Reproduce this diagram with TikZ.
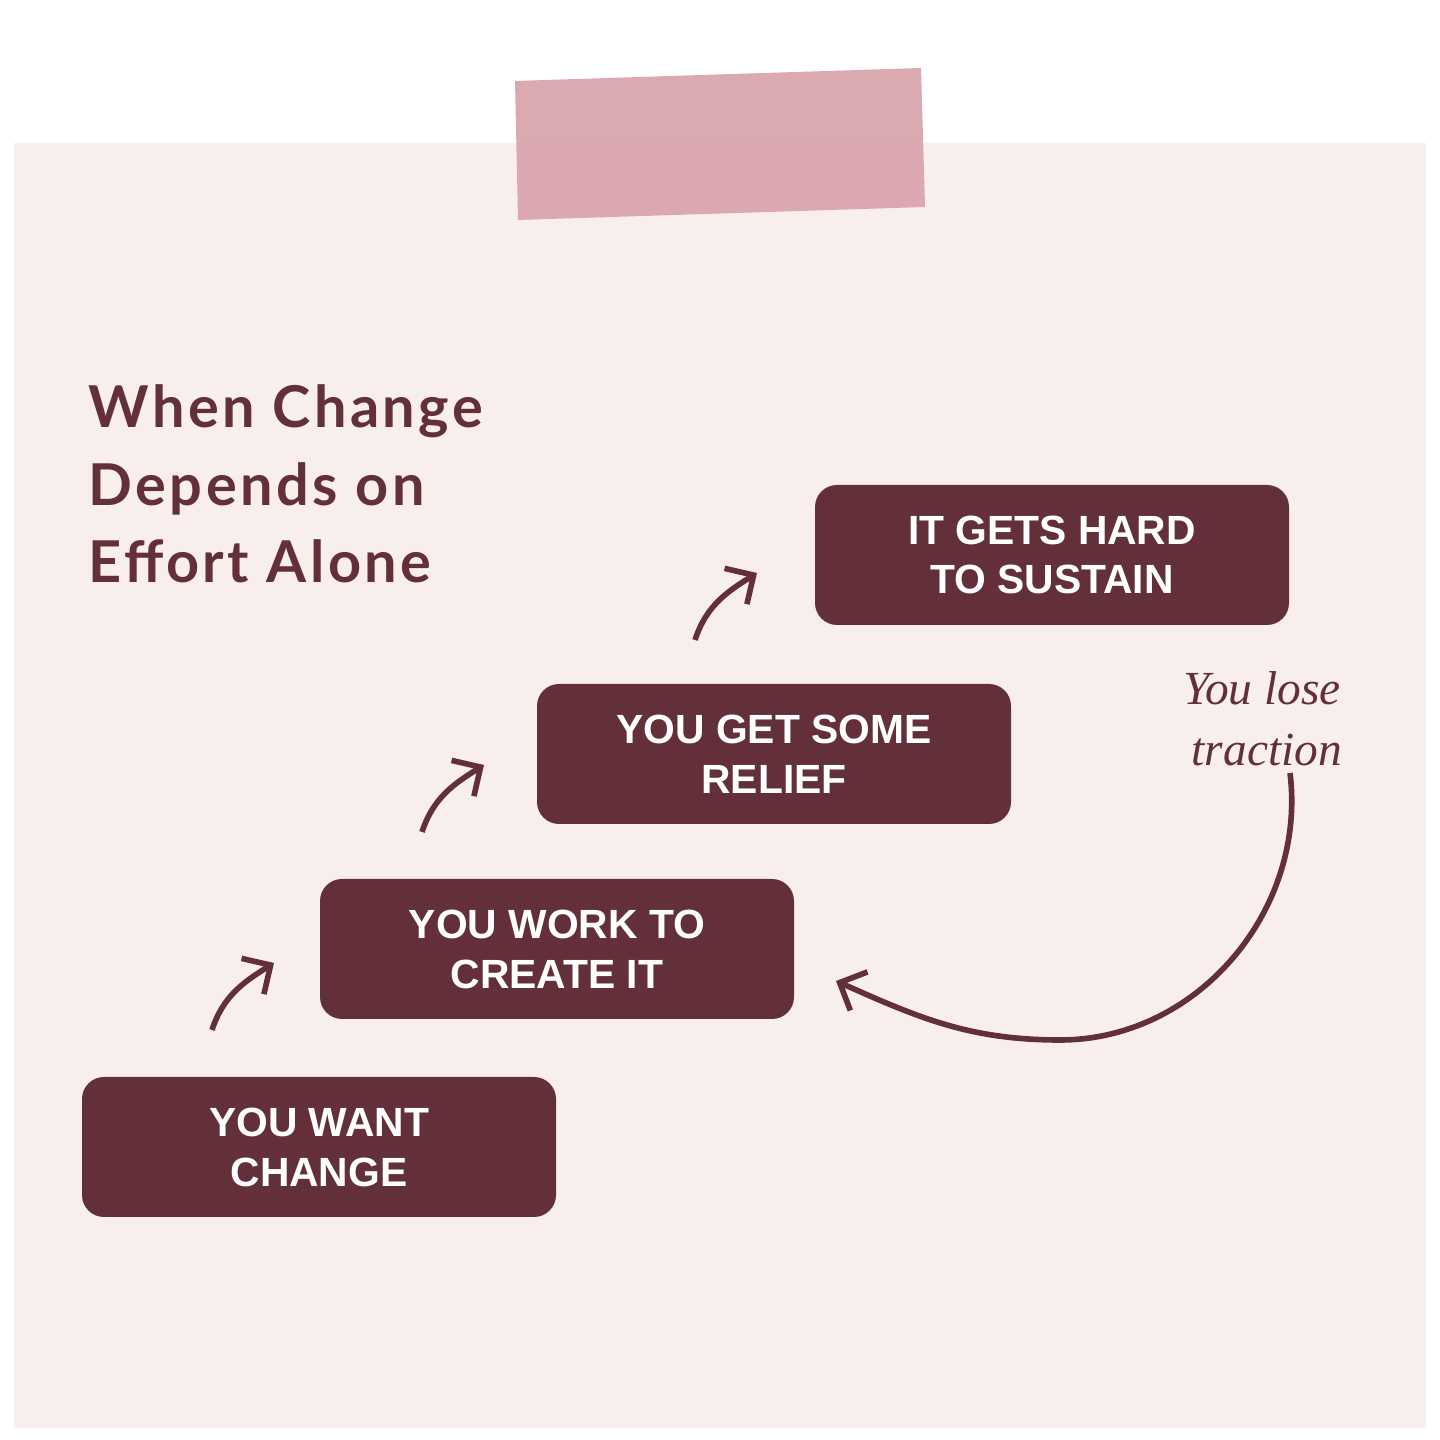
\documentclass[tikz,border=0pt]{standalone}
\usepackage{fontspec}
\setmainfont{Liberation Sans}
\newfontfamily\titlefont{Lato}[LetterSpace=6]
\newfontfamily\handfont{Liberation Serif}
\usetikzlibrary{arrows.meta}
\definecolor{paper}{HTML}{F8EFEC}
\definecolor{wine}{HTML}{633039}
\definecolor{tape}{HTML}{D9A2AA}
\begin{document}
\begin{tikzpicture}[x=0.01cm,y=0.01cm,
    stepbox/.style={fill=wine,rounded corners=22*0.01cm,minimum width=474*0.01cm,minimum height=140*0.01cm,
      text=white,align=center,font=\bfseries\fontsize{11.6}{14.2}\selectfont},
    titleline/.style={anchor=base west,inner sep=0pt,text=wine,font=\titlefont\bfseries\fontsize{16.4}{22}\selectfont},
    hop/.style={draw=wine,line width=1.6pt,-{Straight Barb[length=6pt,width=12pt,line width=1.6pt]}}]
    \useasboundingbox (0,0) rectangle (1440,1440);
    \fill[white] (0,0) rectangle (1440,1440);
    \fill[paper] (14,12) rectangle (1426,1297);
    \fill[tape,opacity=0.92] (515,1359) -- (921,1372) -- (925,1233) -- (518,1220) -- cycle;

    \node[titleline] (t1) at (88,1012) {When Change};
    \node[titleline] (t2) at (88,934) {Depends on};
    \node[titleline] (t3) at (88,857) {Effort Alone};

    \node[stepbox] (s1) at (319,293) {YOU WANT\\CHANGE};
    \node[stepbox] (s2) at (557,491) {YOU WORK TO\\CREATE IT};
    \node[stepbox] (s3) at (774,686) {YOU GET SOME\\RELIEF};
    \node[stepbox] (s4) at (1052,885) {IT GETS HARD\\TO SUSTAIN};

    \foreach \i/\x/\y in {1/212/410, 2/422/608, 3/695/800}
    {
      \coordinate (a\i) at (\x,\y);
      \coordinate (b\i) at (\x+62,\y+67);
      \draw[hop] (a\i) to[out=72,in=212] (b\i);
    }

    \node[text=wine,font=\handfont\itshape\fontsize{13.5}{16.5}\selectfont,align=center] (lose) at (1262,721) {You lose\\[1pt]\hspace*{0.2em}traction};
    \coordinate (c0) at (1290,667);
    \coordinate (c1) at (1060,400);
    \coordinate (c2) at (836,459);
    \draw[hop] (c0) to[out=-83,in=0] (c1) to[out=180,in=-24] (c2);
  \end{tikzpicture}
\end{document}
